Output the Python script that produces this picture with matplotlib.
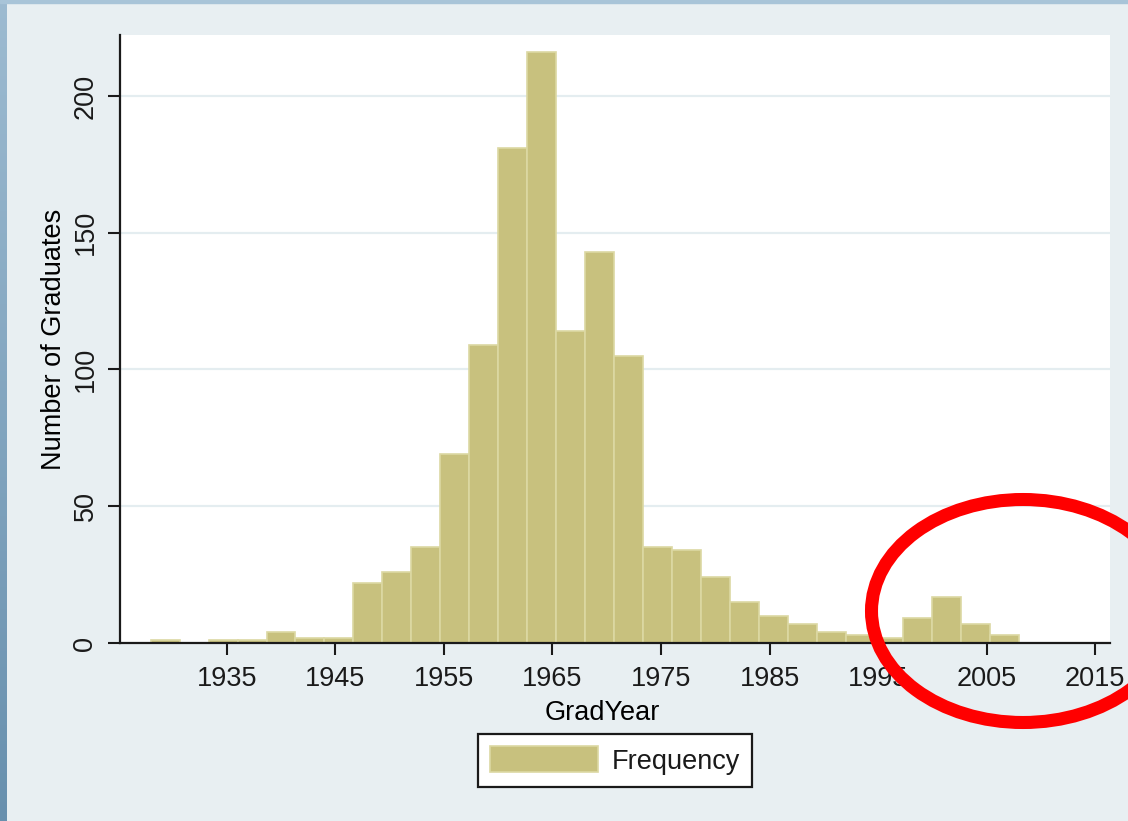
import matplotlib
matplotlib.use('Agg')
import matplotlib.pyplot as plt
import numpy as np
from matplotlib.patches import Ellipse, Rectangle

# Histogram of graduation years (30 equal bins, Stata style)
bin_start = 1928
bin_width = 80 / 30
counts = [1, 0, 1, 1, 4, 2, 2, 22, 26, 35, 69, 109, 181, 216, 114,
          143, 105, 35, 34, 24, 15, 10, 7, 4, 3, 2, 9, 17, 7, 3]
x_ticks = [1935, 1945, 1955, 1965, 1975, 1985, 1995, 2005, 2015]
y_ticks = [0, 50, 100, 150, 200]

plt.rcParams['font.family'] = ['Liberation Sans', 'DejaVu Sans']
plt.rcParams['text.color'] = '#1a1a1a'

W, H = 1128, 821
bg = '#e8eff2'
fig = plt.figure(figsize=(W / 100, H / 100), dpi=100, facecolor=bg)

# slide frame: gradient strip on the left, thin strip on top
strip = fig.add_axes([0, 0, 7 / W, 1])
grad = np.linspace(0, 1, 256).reshape(-1, 1)
strip.imshow(grad, aspect='auto', cmap=matplotlib.colors.LinearSegmentedColormap.from_list(
    'frame', ['#9dbbd1', '#6890ae']), extent=[0, 1, 0, 1])
strip.axis('off')
fig.patches.append(Rectangle((0, 1 - 3 / H), 1, 3 / H, transform=fig.transFigure,
                             color='#a8c4d8', zorder=0))

ax = fig.add_axes([120 / W, 1 - 643 / H, 990 / W, 608 / H])
ax.set_facecolor('white')

edges = bin_start + bin_width * np.arange(len(counts))
ax.bar(edges, counts, width=bin_width, align='edge', color='#c8c17e',
       edgecolor='#dcd8a3', linewidth=1.2, label='Frequency', zorder=2)

ax.set_xlim(1925.17, 2016.36)
ax.set_ylim(0, 222.3)

ax.set_xticks(x_ticks)
ax.set_yticks(y_ticks)
ax.set_yticklabels([str(v) for v in y_ticks], rotation=90, va='center')
ax.tick_params(axis='x', direction='out', length=8.5, width=1.5, pad=8,
               labelsize=19.5, colors='#1a1a1a')
ax.tick_params(axis='y', direction='out', length=8.5, width=1.5, pad=7,
               labelsize=19.5, colors='#1a1a1a')

ax.yaxis.grid(True, color='#e4edf0', linewidth=1.6)
ax.set_axisbelow(True)

for side in ['top', 'right']:
    ax.spines[side].set_visible(False)
for side in ['left', 'bottom']:
    ax.spines[side].set_linewidth(1.6)
    ax.spines[side].set_color('#1a1a1a')

ax.set_xlabel('GradYear', fontsize=19.5, va='center')
ax.xaxis.set_label_coords((602 - 120) / 990, -0.1158)
ax.set_ylabel('Number of Graduates', fontsize=19.5, va='center')
ax.yaxis.set_label_coords((54 - 120) / 990, 0.5)

leg = ax.legend(loc='center', bbox_to_anchor=(615 / W, 1 - 760.5 / H),
                bbox_transform=fig.transFigure, fontsize=19.5,
                handlelength=4, handleheight=1.1, handletextpad=0.5,
                borderpad=0.45, fancybox=False, framealpha=1, borderaxespad=0)
leg.get_frame().set_edgecolor('#1a1a1a')
leg.get_frame().set_linewidth(1.6)

# red highlight around the recent graduates
fig.add_artist(Ellipse((1023 / W, 1 - 611 / H), 303 / W, 223 / H,
                       transform=fig.transFigure, fill=False,
                       edgecolor='#ff0000', linewidth=9.4, zorder=10))

fig.savefig('out.png', dpi=100, facecolor=bg)
